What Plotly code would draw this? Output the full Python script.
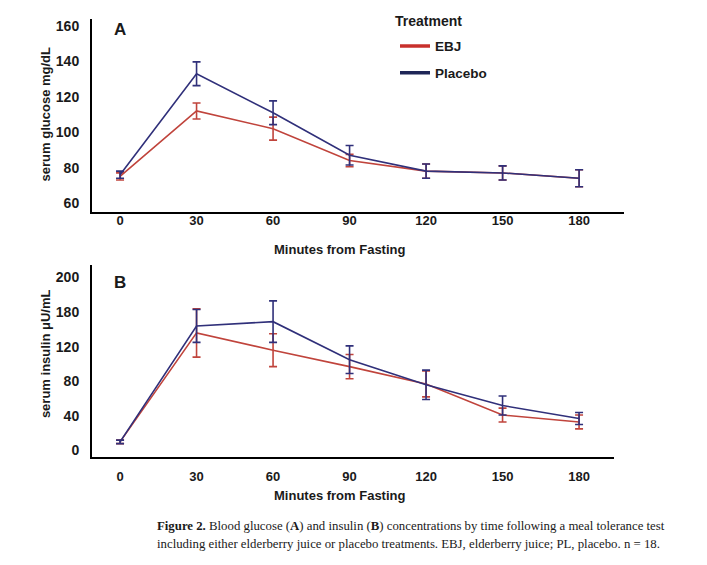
import plotly.graph_objects as go

# ---------------- data ----------------
minutes = [0, 30, 60, 90, 120, 150, 180]

glucose_ebj = [75, 112, 102, 84, 78, 77, 74]
glucose_ebj_err = [2, 4.5, 6.5, 3.5, 4, 4, 4.8]
glucose_pl = [76, 133, 111, 87, 78, 77, 74]
glucose_pl_err = [2, 6.7, 6.7, 5.5, 4, 4, 4.8]

insulin_ebj = [10, 136, 116, 97, 77, 41, 33]
insulin_ebj_err = [2, 28, 19, 14, 15, 8, 8]
insulin_pl = [10, 144, 149, 105, 76, 52, 37]
insulin_pl_err = [2, 19, 24, 16, 17, 11, 7]

x_ticks = [0, 30, 60, 90, 120, 150, 180]
g_tickvals = [60, 80, 100, 120, 140, 160]
g_ticktext = ["60", "80", "100", "120", "140", "160"]
i_tickvals = [0, 40, 80, 120, 160, 200]
i_ticktext = ["0", "40", "80", "120", "180", "200"]

series_names = ["EBJ", "Placebo"]
colors = {"EBJ": "#c0443c", "Placebo": "#30307a"}
legend_colors = {"EBJ": "#c8302c", "Placebo": "#1f2657"}

W, H = 707, 565
FONT = "Liberation Sans"

fig = go.Figure()


def add_series(x, y, err, name, xa, ya):
    fig.add_trace(go.Scatter(
        x=x, y=y, mode="lines", name=name, showlegend=False,
        line=dict(color=colors[name], width=1.6),
        error_y=dict(type="data", array=err, visible=True,
                     color=colors[name], thickness=1.6, width=4),
        xaxis=xa, yaxis=ya,
    ))


add_series(minutes, glucose_ebj, glucose_ebj_err, "EBJ", "x", "y")
add_series(minutes, glucose_pl, glucose_pl_err, "Placebo", "x", "y")
add_series(minutes, insulin_ebj, insulin_ebj_err, "EBJ", "x2", "y2")
add_series(minutes, insulin_pl, insulin_pl_err, "Placebo", "x2", "y2")

# legend-only entries
for i, name in enumerate(series_names):
    fig.add_trace(go.Scatter(
        x=[None], y=[None], mode="lines", name=name,
        line=dict(color=legend_colors[name], width=3.5),
        legendgroup=name, showlegend=True, xaxis="x", yaxis="y",
    ))


def px_x(p):
    return p / W


def px_y(p):
    return 1 - p / H


axis_common = dict(showline=True, linecolor="black", linewidth=2,
                   showgrid=False, zeroline=False, ticks="",
                   tickfont=dict(family=FONT, size=13, color="#1a1a1a", weight="bold"))
yfont = dict(family=FONT, size=14, color="#1a1a1a", weight="bold")

fig.update_layout(
    width=W, height=H,
    margin=dict(l=0, r=0, t=0, b=0),
    paper_bgcolor="white", plot_bgcolor="white",
    showlegend=True,
    legend=dict(
        x=px_x(395), y=px_y(30), xanchor="left", yanchor="top",
        font=dict(family=FONT, size=13.5, color="#1a1a1a", weight="bold"),
        tracegroupgap=6, traceorder="grouped",
        bgcolor="rgba(0,0,0,0)", itemwidth=30,
    ),
    xaxis=dict(domain=[px_x(92), px_x(624)], range=[-11, 197.6], anchor="y",
               tickvals=x_ticks, ticklabelstandoff=-4, **axis_common),
    yaxis=dict(domain=[px_y(212), px_y(18)], range=[55, 164], anchor="x",
               tickvals=g_tickvals, ticktext=g_ticktext, ticklabelstandoff=8,
               **{**axis_common, "tickfont": yfont}),
    xaxis2=dict(domain=[px_x(92), px_x(614)], range=[-11, 193.7], anchor="y2",
                tickvals=x_ticks, ticklabelstandoff=7, **axis_common),
    yaxis2=dict(domain=[px_y(458), px_y(265)], range=[-7, 215], anchor="x2",
                tickvals=i_tickvals, ticktext=i_ticktext, ticklabelstandoff=8,
                **{**axis_common, "tickfont": yfont}),
)

ann_font = dict(family=FONT, size=13, color="#1a1a1a")
cap_font = dict(family="Liberation Serif", size=12.8, color="#1a1a1a")
annotations = [
    dict(text="<b>Treatment</b>", x=px_x(393), y=px_y(20), xanchor="left",
         font=dict(family=FONT, size=14, color="#1a1a1a")),
    dict(text="<b>A</b>", x=px_x(120), y=px_y(29), font=dict(family=FONT, size=17, color="#1a1a1a")),
    dict(text="<b>B</b>", x=px_x(120), y=px_y(283), font=dict(family=FONT, size=17, color="#1a1a1a")),
    dict(text="<b>Minutes from Fasting</b>", x=px_x(340), y=px_y(250), font=ann_font),
    dict(text="<b>Minutes from Fasting</b>", x=px_x(340), y=px_y(497), font=ann_font),
    dict(text="<b>serum glucose mg/dL</b>", x=px_x(45), y=px_y(114), textangle=-90, font=ann_font),
    dict(text="<b>serum insulin μU/mL</b>", x=px_x(45), y=px_y(355), textangle=-90, font=ann_font),
    dict(text="<b>Figure 2.</b> Blood glucose (<b>A</b>) and insulin (<b>B</b>) concentrations by time following a meal tolerance test",
         x=px_x(155), y=px_y(528), xanchor="left", font=cap_font),
    dict(text="including either elderberry juice or placebo treatments. EBJ, elderberry juice; PL, placebo. n = 18.",
         x=px_x(155), y=px_y(546), xanchor="left", font=cap_font),
]
for a in annotations:
    a.setdefault("xanchor", "center")
    a.update(xref="paper", yref="paper", yanchor="middle", showarrow=False)
fig.update_layout(annotations=annotations)

fig.write_html("out.html")
